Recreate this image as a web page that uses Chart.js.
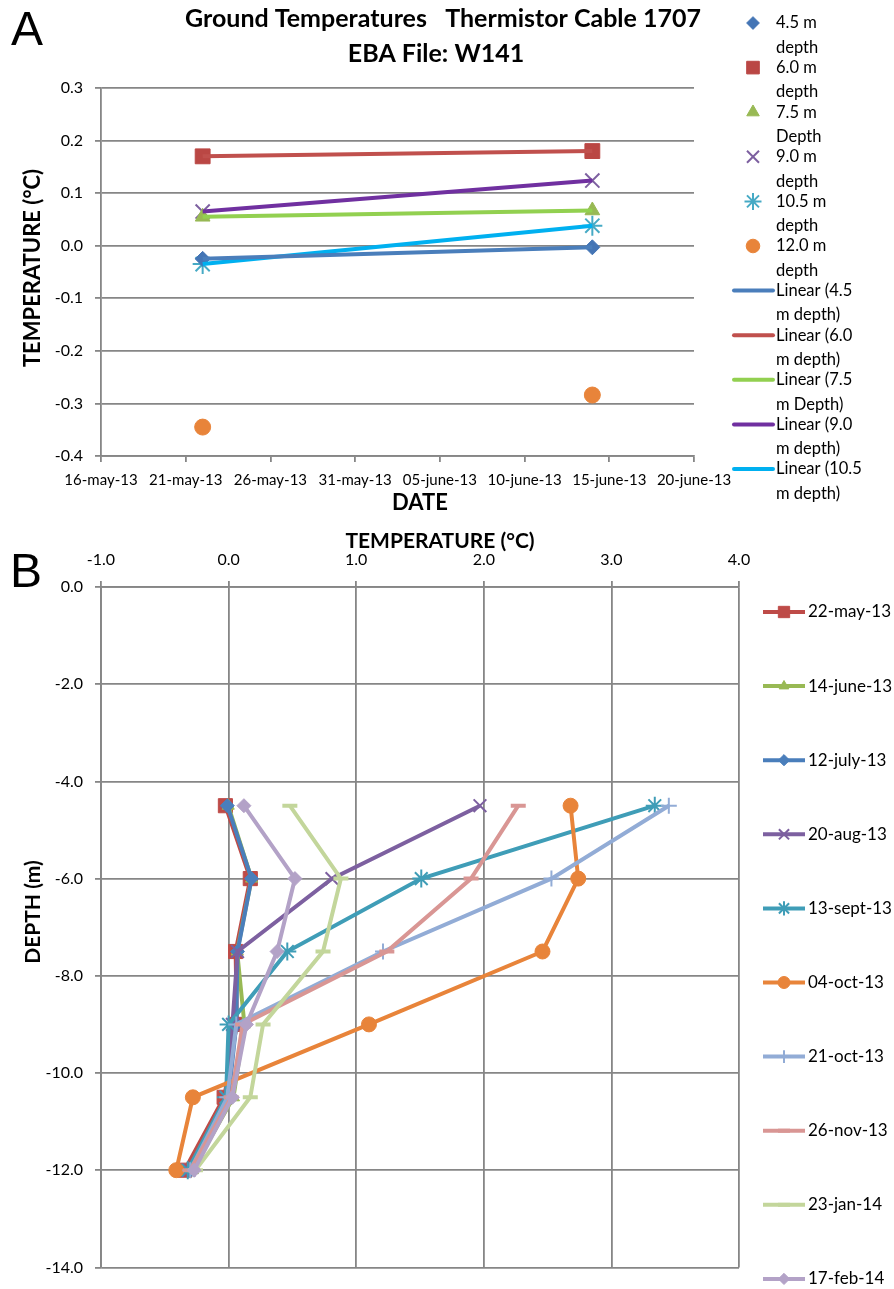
<!DOCTYPE html>
<html>
<head>
<meta charset="utf-8">
<script src="https://cdn.jsdelivr.net/npm/chart.js@4.4.0/dist/chart.umd.min.js"></script>
<style>
  body { margin: 0; background: #fff; }
  canvas { display: block; }
</style>
</head>
<body>
<canvas id="chartA" width="894" height="520"></canvas>
<canvas id="chartB" width="894" height="769"></canvas>
<script>
// ---- data ----
// panel A x axis: day of year 2013
const dateTicks = ['16-may-13', '21-may-13', '26-may-13', '31-may-13', '05-june-13', '10-june-13', '15-june-13', '20-june-13'];
const firstTickDay = 136;
const sampleDays = [142, 165]; // 22-may-13, 14-june-13

const depths = [-4.5, -6.0, -7.5, -9.0, -10.5, -12.0];
const depthNames = ['4.5 m depth', '6.0 m depth', '7.5 m Depth', '9.0 m depth', '10.5 m depth', '12.0 m depth'];

const surveyDates = ['22-may-13', '14-june-13', '12-july-13', '20-aug-13', '13-sept-13', '04-oct-13', '21-oct-13', '26-nov-13', '23-jan-14', '17-feb-14'];

// temperatures (deg C) at 4.5, 6.0, 7.5, 9.0, 10.5, 12.0 m
const t22may13 = [-0.025, 0.17, 0.055, 0.065, -0.035, -0.345];
const t14june13 = [-0.003, 0.18, 0.067, 0.124, 0.038, -0.284];
const t12july13 = [-0.01, 0.18, 0.07, 0.06, 0.0, -0.30];
const t20aug13 = [1.97, 0.81, 0.07, 0.03, -0.02, -0.31];
const t13sept13 = [3.34, 1.51, 0.46, 0.0, -0.02, -0.32];
const t04oct13 = [2.68, 2.74, 2.46, 1.10, -0.28, -0.41];
const t21oct13 = [3.45, 2.53, 1.21, 0.06, -0.01, -0.30];
const t26nov13 = [2.27, 1.90, 1.24, 0.11, 0.02, -0.30];
const t23jan14 = [0.48, 0.88, 0.74, 0.27, 0.17, -0.26];
const t17feb14 = [0.12, 0.52, 0.38, 0.14, 0.03, -0.27];

const profiles = [t22may13, t14june13, t12july13, t20aug13, t13sept13, t04oct13, t21oct13, t26nov13, t23jan14, t17feb14];

// ---- styles ----
const gridColor = '#868686';
Chart.defaults.font.family = 'Lato';
Chart.defaults.color = '#000';

const markerA = [
  { style: 'rectRot', r: 7.5, color: '#4475B5', bw: 1 },
  { style: 'rect', r: 10.5, color: '#BA4744', bw: 1 },
  { style: 'triangle', r: 8.5, color: '#98B954', bw: 1 },
  { style: 'crossRot', r: 10, color: '#7D60A0', bw: 2 },
  { style: 'star', r: 10, color: '#46AAC5', bw: 2 },
  { style: 'circle', r: 8, color: '#E8843A', bw: 1 }
];
const trendColors = ['#4A7EBB', '#C0504D', '#92D050', '#7030A0', '#00B0F0'];

const markerB = [
  { style: 'rect', r: 10, color: '#BE4B48', bw: 1 },
  { style: 'triangle', r: 7, color: '#98B954', bw: 1 },
  { style: 'rectRot', r: 7, color: '#4A7EBB', bw: 1 },
  { style: 'crossRot', r: 9, color: '#7D60A0', bw: 2 },
  { style: 'star', r: 9, color: '#3F9DB7', bw: 2 },
  { style: 'circle', r: 7.5, color: '#E8843A', bw: 1 },
  { style: 'cross', r: 8, color: '#92ACD6', bw: 2 },
  { style: 'line', r: 7.5, color: '#D99694', bw: 4 },
  { style: 'line', r: 7.5, color: '#C3D69B', bw: 4 },
  { style: 'rectRot', r: 7, color: '#B3A2C7', bw: 1 }
];

function fmt1(v) {
  return (Math.abs(v) < 1e-9 ? 0 : v).toFixed(1);
}

function marker(ctx, m, x, y, scale) {
  ctx.save();
  ctx.fillStyle = m.color;
  ctx.strokeStyle = m.color;
  ctx.lineWidth = m.bw;
  Chart.helpers.drawPoint(ctx, { pointStyle: m.style, radius: m.r * scale, borderWidth: m.bw, rotation: 0 }, x, y);
  ctx.restore();
}

function vText(ctx, txt, x, y) {
  ctx.save();
  ctx.translate(x, y);
  ctx.rotate(-Math.PI / 2);
  ctx.fillText(txt, 0, 0);
  ctx.restore();
}

// ---- panel A ----
const dsA = [];
depthNames.forEach((name, j) => {
  const m = markerA[j];
  dsA.push({
    label: name,
    data: sampleDays.map((d, i) => ({ x: d, y: profiles[i][j] })),
    pointStyle: m.style,
    pointRadius: m.r,
    pointBackgroundColor: m.color,
    pointBorderColor: m.color,
    pointBorderWidth: m.bw,
    showLine: false,
    order: 2
  });
});
depthNames.slice(0, 5).forEach((name, j) => {
  dsA.push({
    label: 'Linear (' + name + ')',
    data: sampleDays.map((d, i) => ({ x: d, y: profiles[i][j] })),
    showLine: true,
    borderColor: trendColors[j],
    borderWidth: 4,
    pointRadius: 0,
    order: 1
  });
});

const legendA = [
  ['4.5 m', 'depth'], ['6.0 m', 'depth'], ['7.5 m', 'Depth'], ['9.0 m', 'depth'],
  ['10.5 m', 'depth'], ['12.0 m', 'depth'],
  ['Linear (4.5', 'm depth)'], ['Linear (6.0', 'm depth)'], ['Linear (7.5', 'm Depth)'],
  ['Linear (9.0', 'm depth)'], ['Linear (10.5', 'm depth)']
];

const decorA = {
  id: 'decorA',
  afterDraw(chart) {
    const ctx = chart.ctx;
    ctx.save();
    ctx.fillStyle = '#000';
    ctx.font = '48px "Liberation Sans"';
    ctx.textAlign = 'left';
    ctx.textBaseline = 'alphabetic';
    ctx.fillText('A', 11, 45);

    ctx.font = 'bold 25px Lato';
    ctx.textAlign = 'center';
    ctx.textBaseline = 'middle';
    ctx.fillText('Ground Temperatures   Thermistor Cable 1707', 443, 19);
    ctx.fillText('EBA File: W141', 436, 54);
    ctx.font = 'bold 22px Lato';
    ctx.fillText('DATE', 420, 503);
    vText(ctx, 'TEMPERATURE (°C)', 33, 268);

    // legend
    ctx.font = '16.5px Lato';
    ctx.textAlign = 'left';
    legendA.forEach((lines, i) => {
      const y = 23 + 44.6 * i;
      if (i < 6) {
        marker(ctx, markerA[i], 753, y, 0.85);
      } else {
        ctx.save();
        ctx.strokeStyle = trendColors[i - 6];
        ctx.lineWidth = 4;
        ctx.lineCap = 'round';
        ctx.beginPath();
        ctx.moveTo(734, y);
        ctx.lineTo(773, y);
        ctx.stroke();
        ctx.restore();
      }
      ctx.fillText(lines[0], 776, y);
      ctx.fillText(lines[1], 776, y + 24.5);
    });
    ctx.restore();
  }
};

new Chart(document.getElementById('chartA'), {
  type: 'scatter',
  data: { datasets: dsA },
  options: {
    responsive: false,
    animation: false,
    events: [],
    layout: { padding: { top: 88, right: 200, bottom: 0, left: 0 } },
    plugins: { legend: { display: false }, tooltip: { enabled: false } },
    scales: {
      x: {
        type: 'linear',
        min: firstTickDay,
        max: firstTickDay + 35,
        ticks: {
          stepSize: 5,
          autoSkip: false,
          maxRotation: 0,
          padding: 9,
          font: { size: 15 },
          callback: v => dateTicks[Math.round((v - firstTickDay) / 5)]
        },
        grid: { drawOnChartArea: false, color: gridColor, lineWidth: 1.8, tickLength: 6 },
        border: { color: gridColor, width: 1.8 },
        afterFit(s) { s.height = 64; }
      },
      y: {
        min: -0.4,
        max: 0.3,
        ticks: { stepSize: 0.1, padding: 12, font: { size: 16 }, callback: fmt1 },
        grid: { color: gridColor, lineWidth: 1.8, tickLength: 6 },
        border: { color: gridColor, width: 1.8 },
        afterFit(s) { s.width = 101; }
      }
    }
  },
  plugins: [decorA]
});

// ---- panel B ----
const dsB = surveyDates.map((name, i) => {
  const m = markerB[i];
  return {
    label: name,
    data: depths.map((d, j) => ({ x: profiles[i][j], y: d })),
    showLine: true,
    borderColor: m.color,
    borderWidth: 4,
    pointStyle: m.style,
    pointRadius: m.r,
    pointBackgroundColor: m.color,
    pointBorderColor: m.color,
    pointBorderWidth: m.bw,
    order: 20 - i
  };
});

const decorB = {
  id: 'decorB',
  afterDraw(chart) {
    const ctx = chart.ctx;
    ctx.save();
    ctx.fillStyle = '#000';
    ctx.font = '48px "Liberation Sans"';
    ctx.textAlign = 'left';
    ctx.textBaseline = 'alphabetic';
    ctx.fillText('B', 10, 67);

    ctx.font = 'bold 21px Lato';
    ctx.textAlign = 'center';
    ctx.textBaseline = 'middle';
    ctx.fillText('TEMPERATURE (°C)', 440, 21);
    vText(ctx, 'DEPTH (m)', 33, 392);

    ctx.font = '17px Lato';
    ctx.textAlign = 'left';
    surveyDates.forEach((name, i) => {
      const m = markerB[i];
      const y = 92 + 74.1 * i;
      ctx.save();
      ctx.strokeStyle = m.color;
      ctx.lineWidth = 4;
      ctx.beginPath();
      ctx.moveTo(763, y);
      ctx.lineTo(805, y);
      ctx.stroke();
      ctx.restore();
      marker(ctx, m, 784, y, 0.8);
      ctx.fillText(name, 808, y);
    });
    ctx.restore();
  }
};

new Chart(document.getElementById('chartB'), {
  type: 'scatter',
  data: { datasets: dsB },
  options: {
    responsive: false,
    animation: false,
    events: [],
    layout: { padding: { top: 0, right: 155, bottom: 12, left: 0 } },
    plugins: { legend: { display: false }, tooltip: { enabled: false } },
    scales: {
      x: {
        type: 'linear',
        position: 'top',
        min: -1,
        max: 4,
        ticks: { stepSize: 1, padding: 12, maxRotation: 0, font: { size: 16 }, callback: fmt1 },
        grid: { color: gridColor, lineWidth: 1.8, tickLength: 6 },
        border: { color: gridColor, width: 1.8 },
        afterFit(s) { s.height = 67; }
      },
      y: {
        min: -14,
        max: 0,
        ticks: { stepSize: 2, padding: 12, font: { size: 16 }, callback: fmt1 },
        grid: { color: gridColor, lineWidth: 1.8, tickLength: 6 },
        border: { color: gridColor, width: 1.8 },
        afterFit(s) { s.width = 101; }
      }
    }
  },
  plugins: [decorB]
});
</script>
</body>
</html>
